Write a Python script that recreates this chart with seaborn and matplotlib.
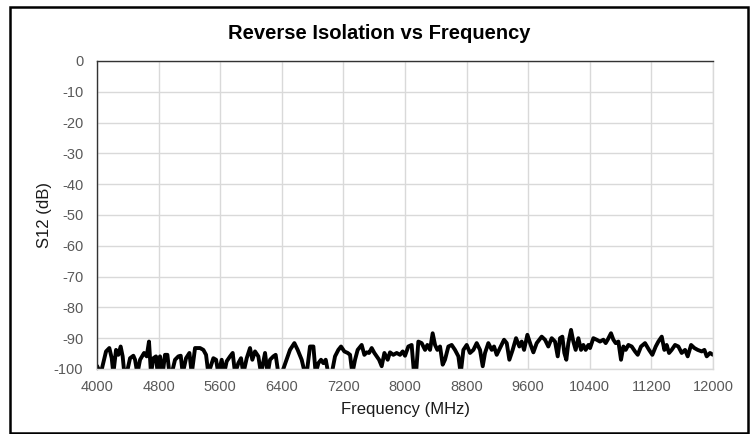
import seaborn as sns
import pandas as pd
import matplotlib.pyplot as plt
from matplotlib.patches import Rectangle

sns.set_style("white")
plt.rcParams['font.family'] = ['Liberation Sans', 'DejaVu Sans']
plt.rcParams['axes.unicode_minus'] = False

# values (MHz, dB); below -100 is clipped by the axis
freq_mhz = [4000, 4048, 4117, 4160, 4191, 4212, 4247, 4277, 4307, 4333, 4355, 4385,
            4429, 4472, 4494, 4524, 4559, 4611, 4645, 4675, 4701, 4732, 4766, 4788,
            4818, 4853, 4883, 4914, 4940, 4970, 5013, 5057, 5087, 5113, 5156, 5200,
            5230, 5273, 5338, 5381, 5416, 5446, 5511, 5546, 5576, 5619, 5650, 5684,
            5728, 5762, 5793, 5835, 5870, 5900, 5944, 5987, 6017, 6052, 6095, 6130,
            6182, 6216, 6247, 6290, 6320, 6355, 6398, 6506, 6563, 6606, 6658, 6701,
            6723, 6766, 6810, 6840, 6875, 6909, 6939, 6970, 7004, 7048, 7091, 7134,
            7169, 7212, 7256, 7286, 7316, 7351, 7385, 7437, 7472, 7502, 7533, 7567,
            7602, 7632, 7663, 7697, 7732, 7775, 7805, 7848, 7892, 7935, 7970, 8000,
            8043, 8086, 8117, 8143, 8173, 8216, 8260, 8290, 8325, 8359, 8390, 8420,
            8455, 8489, 8519, 8563, 8606, 8649, 8693, 8723, 8758, 8801, 8844, 8888,
            8931, 8974, 9009, 9039, 9082, 9126, 9156, 9191, 9234, 9286, 9321, 9355,
            9398, 9442, 9485, 9515, 9546, 9589, 9632, 9667, 9710, 9775, 9818, 9861,
            9905, 9948, 9983, 10013, 10043, 10069, 10095, 10121, 10156, 10186, 10216,
            10251, 10286, 10316, 10346, 10381, 10403, 10446, 10489, 10532, 10576,
            10606, 10632, 10675, 10706, 10736, 10771, 10805, 10836, 10866, 10901,
            10944, 10987, 11022, 11065, 11117, 11169, 11212, 11256, 11290, 11334,
            11368, 11398, 11429, 11463, 11507, 11550, 11593, 11637, 11671, 11715,
            11758, 11801, 11853, 11888, 11918, 11961, 12000]
s12_db = [-99.0, -101.5, -94.3, -93.2, -96.5, -101.5, -93.8, -95.4, -92.7, -95.9, -101.5, -101.5,
          -96.5, -95.7, -97.0, -101.5, -97.0, -94.8, -95.9, -91.1, -101.5, -96.5, -95.9, -101.5,
          -95.9, -101.5, -95.4, -95.4, -101.5, -101.5, -97.0, -95.9, -95.7, -101.5, -96.5, -94.8,
          -101.5, -93.2, -93.2, -93.8, -95.4, -101.5, -96.5, -97.0, -101.5, -97.0, -101.5, -97.5,
          -95.9, -94.8, -101.5, -98.1, -96.5, -101.5, -96.5, -93.2, -97.0, -94.3, -95.9, -101.5,
          -94.8, -101.5, -97.0, -95.9, -95.4, -101.5, -101.5, -93.8, -91.6, -93.8, -97.0, -101.5,
          -101.5, -92.7, -92.7, -101.5, -98.1, -97.0, -98.1, -97.0, -101.5, -101.5, -95.9, -93.8,
          -92.7, -94.3, -94.8, -95.4, -101.5, -97.0, -93.8, -92.2, -95.4, -94.6, -94.8, -93.2,
          -94.8, -95.9, -97.0, -99.1, -94.8, -97.0, -94.6, -95.4, -94.8, -95.4, -94.3, -95.7,
          -92.7, -92.2, -101.5, -101.5, -91.1, -91.6, -93.8, -92.2, -93.8, -88.4, -92.2, -93.8,
          -92.7, -98.6, -97.0, -92.7, -92.2, -93.8, -95.9, -101.5, -93.8, -92.2, -94.8, -93.8,
          -91.6, -93.8, -99.1, -94.8, -91.6, -93.8, -92.7, -95.4, -93.2, -90.5, -91.6, -97.0,
          -93.8, -90.0, -92.7, -91.1, -93.8, -88.9, -92.2, -94.6, -91.6, -89.5, -90.5, -92.7,
          -90.0, -91.1, -95.9, -90.0, -89.5, -94.8, -97.0, -91.6, -87.3, -91.1, -93.8,
          -90.0, -93.8, -92.2, -93.8, -92.2, -93.2, -90.0, -90.5, -91.1, -90.5,
          -91.6, -90.5, -88.4, -90.5, -91.6, -91.1, -97.0, -92.7, -93.8, -92.2,
          -92.7, -94.3, -95.4, -92.7, -91.6, -93.8, -95.4, -92.7, -91.1, -89.5,
          -93.8, -92.2, -94.8, -93.8, -92.2, -92.7, -94.8, -93.8, -95.9, -92.2,
          -93.2, -93.8, -94.3, -93.8, -95.9, -94.8, -95.4]

x_ticks = list(range(4000, 12001, 800))
y_ticks = list(range(-100, 1, 10))

df = pd.DataFrame({"freq": freq_mhz, "s12": s12_db})

fig = plt.figure(figsize=(7.55, 4.34), dpi=100)
ax = fig.add_axes([0.1285, 0.1498, 0.8159, 0.7097])

sns.lineplot(data=df, x="freq", y="s12", color="black", linewidth=2.8,
             estimator=None, sort=False, ax=ax)

ax.set_xlim(4000, 12000)
ax.set_ylim(-100, 0)
ax.set_xticks(x_ticks)
ax.set_yticks(y_ticks)
ax.tick_params(axis="both", length=0, labelsize=10.5, labelcolor="#595959")
ax.tick_params(axis="x", pad=8)
ax.tick_params(axis="y", pad=10)
ax.grid(True, color="#d9d9d9", linewidth=1)
ax.set_axisbelow(True)

for side in ["bottom", "right"]:
    ax.spines[side].set_color("#d9d9d9")
    ax.spines[side].set_linewidth(1)
for side in ["top", "left"]:
    ax.spines[side].set_color("#333333")
    ax.spines[side].set_linewidth(1)

ax.set_xlabel("Frequency (MHz)", fontsize=12, color="#1a1a1a")
ax.set_ylabel("S12 (dB)", fontsize=12, color="#1a1a1a")
ax.xaxis.set_label_coords(0.5, -0.107)
ax.yaxis.set_label_coords(-0.073, 0.5)
fig.text(0.502, 0.910, "Reverse Isolation vs Frequency", fontsize=14.5,
         fontweight="bold", color="black", ha="center", va="baseline")

fig.patches.append(Rectangle((0.0132, 0.0023), 0.9775, 0.9816, transform=fig.transFigure,
                             fill=False, edgecolor="black", linewidth=1.8))

fig.savefig("out.png", dpi=100)
